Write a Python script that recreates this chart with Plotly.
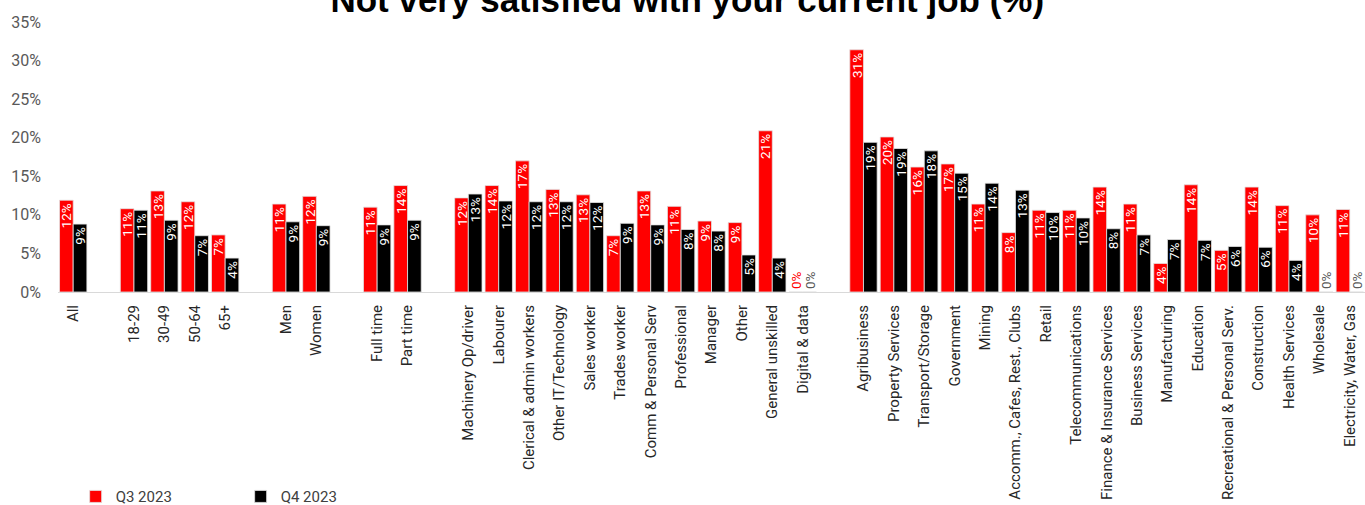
import plotly.graph_objects as go

# ---- data (percent) ----
overall = ["All"]
overall_q3 = [11.9]
overall_q4 = [8.8]

ages = ["18-29", "30-49", "50-64", "65+"]
ages_q3 = [10.8, 13.1, 11.7, 7.4]
ages_q4 = [10.6, 9.3, 7.3, 4.4]

genders = ["Men", "Women"]
genders_q3 = [11.4, 12.4]
genders_q4 = [9.1, 8.6]

work = ["Full time", "Part time"]
work_q3 = [11.0, 13.8]
work_q4 = [8.7, 9.3]

occupations = ["Machinery Op/driver", "Labourer", "Clerical & admin workers",
               "Other IT/Technology", "Sales worker", "Trades worker",
               "Comm & Personal Serv", "Professional", "Manager", "Other",
               "General unskilled", "Digital & data"]
occupations_q3 = [12.2, 13.8, 17.0, 13.3, 12.6, 7.3, 13.1, 11.1, 9.2, 9.0, 20.9, 0]
occupations_q4 = [12.7, 11.8, 11.7, 11.7, 11.6, 8.9, 8.7, 8.1, 7.9, 4.8, 4.4, 0]

industries = ["Agribusiness", "Property Services", "Transport/Storage", "Government",
              "Mining", "Accomm., Cafes, Rest., Clubs", "Retail", "Telecommunications",
              "Finance & Insurance Services", "Business Services", "Manufacturing",
              "Education", "Recreational & Personal Serv.", "Construction",
              "Health Services", "Wholesale", "Electricity, Water, Gas"]
industries_q3 = [31.4, 20.1, 16.2, 16.6, 11.4, 7.7, 10.6, 10.6, 13.6, 11.4, 3.7,
                 13.9, 5.4, 13.6, 11.2, 10.0, 10.7]
industries_q4 = [19.4, 18.6, 18.3, 15.4, 14.1, 13.2, 10.3, 9.6, 8.2, 7.4, 6.8,
                 6.7, 5.9, 5.8, 4.1, 0, 0]

series_names = ["Q3 2023", "Q4 2023"]
y_ticks = [0, 5, 10, 15, 20, 25, 30, 35]

# ---- assemble categories with blank spacer slots between groups ----
groups = [(overall, overall_q3, overall_q4), (ages, ages_q3, ages_q4),
          (genders, genders_q3, genders_q4), (work, work_q3, work_q4),
          (occupations, occupations_q3, occupations_q4),
          (industries, industries_q3, industries_q4)]
cats, q3, q4 = [], [], []
for i, (c, a, b) in enumerate(groups):
    if i > 0:
        cats.append(" " * i)
        q3.append(None)
        q4.append(None)
    cats += c
    q3 += a
    q4 += b


def labels(vals):
    return [None if v is None else f"{round(v)}%" for v in vals]


def positions(vals):
    return ["outside" if (v is not None and v == 0) else "inside" for v in vals]


FONT = "Roboto"
fig = go.Figure()
fig.add_trace(go.Bar(
    name=series_names[0], x=cats, y=q3, text=labels(q3), textposition=positions(q3),
    textangle=-90, insidetextanchor="end", constraintext="none",
    insidetextfont=dict(color="white", size=13.5, family=FONT),
    outsidetextfont=dict(color="#ff0000", size=13.5, family=FONT),
    marker=dict(color="#ff0000", line=dict(color="#e3e3e3", width=0.8)),
    cliponaxis=False,
))
fig.add_trace(go.Bar(
    name=series_names[1], x=cats, y=q4, text=labels(q4), textposition=positions(q4),
    textangle=-90, insidetextanchor="end", constraintext="none",
    insidetextfont=dict(color="white", size=13.5, family=FONT),
    outsidetextfont=dict(color="#595959", size=13.5, family=FONT),
    marker=dict(color="#000000", line=dict(color="#e3e3e3", width=0.8)),
    cliponaxis=False,
))

fig.update_layout(
    width=1365, height=505,
    margin=dict(l=58, r=0, t=22, b=213, autoexpand=False),
    paper_bgcolor="white", plot_bgcolor="white",
    barmode="group", bargap=0.1, bargroupgap=0,
    font=dict(family=FONT, size=15, color="#404040"),
    title=dict(text="<b>Not very satisfied with your current job (%)</b>",
               x=0.5035, xanchor="center", y=1.0, yref="container", yanchor="middle",
               font=dict(family="Liberation Sans, Arial", size=35, color="black")),
    showlegend=True,
    legend=dict(orientation="h", x=0.0135, xanchor="left", y=-0.758, yanchor="middle",
                entrywidth=120, entrywidthmode="pixels",
                font=dict(size=15, color="#404040", family=FONT),
                itemwidth=30, traceorder="normal"),
)
fig.update_xaxes(type="category", categoryorder="array", categoryarray=cats,
                 tickangle=-90, showline=True, linecolor="#d9d9d9", linewidth=1,
                 showgrid=False, ticks="", automargin=False,
                 tickfont=dict(size=15, color="#262626", family=FONT),
                 ticklabelstandoff=6)
fig.update_yaxes(range=[0, 35], tickvals=y_ticks, ticktext=[f"{t}%" for t in y_ticks],
                 showgrid=False, zeroline=False, showline=False, automargin=False,
                 tickfont=dict(size=16, color="#595959", family=FONT), ticklabelstandoff=16)

fig.write_html("out.html")
